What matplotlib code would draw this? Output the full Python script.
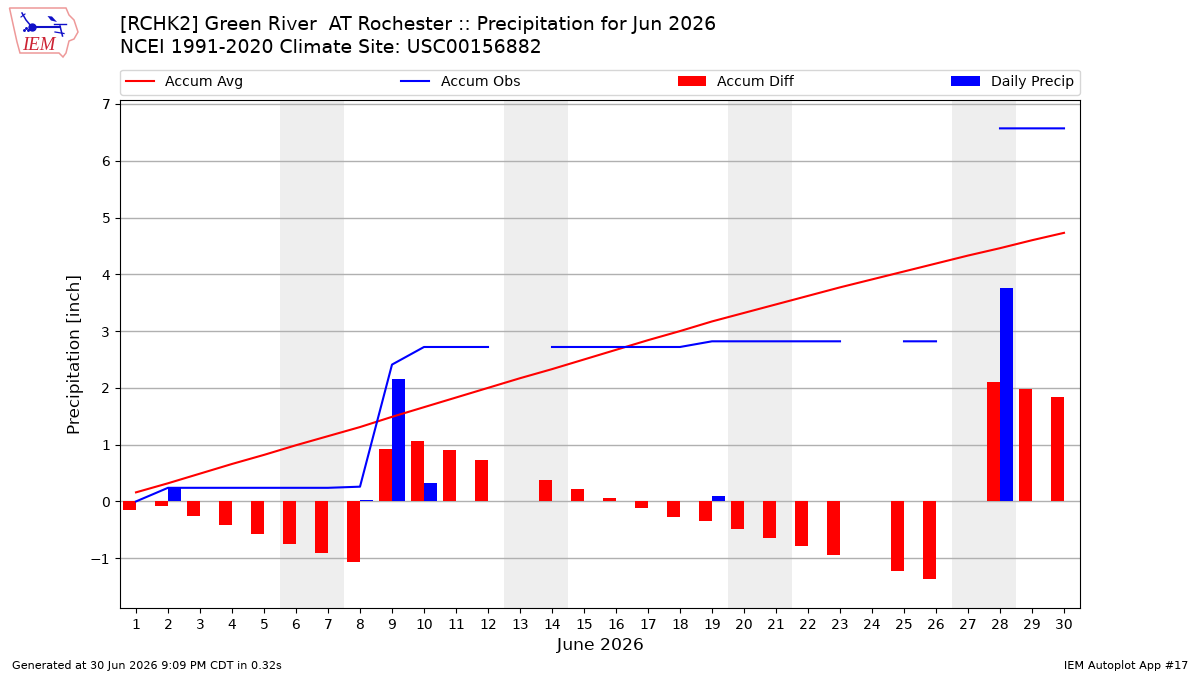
import matplotlib
matplotlib.use("Agg")
import matplotlib.pyplot as plt
from matplotlib.patches import Polygon
import numpy as np

plt.rcParams["text.hinting"] = "native"

nan = np.nan

days = list(range(1, 31))
accum_avg = [0.16, 0.32, 0.49, 0.66, 0.82, 0.99, 1.15, 1.31, 1.49, 1.66,
             1.83, 2.00, 2.17, 2.33, 2.50, 2.67, 2.84, 3.00, 3.17, 3.32,
             3.47, 3.62, 3.77, 3.91, 4.05, 4.19, 4.33, 4.46, 4.60, 4.73]
accum_obs = [0.00, 0.24, 0.24, 0.24, 0.24, 0.24, 0.24, 0.26, 2.41, 2.72,
             2.72, 2.72, nan, 2.72, 2.72, 2.72, 2.72, 2.72, 2.82, 2.82,
             2.82, 2.82, 2.82, nan, 2.82, 2.82, nan, 6.57, 6.57, 6.57]
accum_diff = [-0.15, -0.08, -0.25, -0.42, -0.57, -0.75, -0.91, -1.07, 0.92, 1.06,
              0.90, 0.73, nan, 0.38, 0.22, 0.06, -0.11, -0.27, -0.34, -0.49,
              -0.64, -0.79, -0.94, nan, -1.22, -1.36, nan, 2.10, 1.98, 1.84]
daily_precip = [0.00, 0.24, 0.00, 0.00, 0.00, 0.00, 0.00, 0.02, 2.15, 0.32,
                0.00, 0.00, nan, 0.00, 0.00, 0.00, 0.00, 0.00, 0.09, 0.00,
                0.00, 0.00, 0.00, nan, 0.00, 0.00, nan, 3.75, 0.00, 0.00]
weekends = [6, 13, 20, 27]

title_lines = [
    "[RCHK2] Green River  AT Rochester :: Precipitation for Jun 2026",
    "NCEI 1991-2020 Climate Site: USC00156882",
]


def draw_logo(fig):
    # overlay in pixel coordinates for the little Iowa badge
    lax = fig.add_axes([0, 0, 1, 1], facecolor="none")
    lax.set_xlim(0, 1200)
    lax.set_ylim(675, 0)
    lax.axis("off")
    outline = [(9.5, 8), (66, 8), (69, 15), (74, 20), (78, 32), (74, 39), (69, 41),
               (66, 53), (63, 57), (59, 53), (20, 53), (17, 42), (13, 24)]
    lax.add_patch(Polygon(outline, closed=True, fill=False, ec="#ee9999", lw=1.1))
    blue = "#1010c8"
    lax.plot([31, 60], [26.5, 26.5], color=blue, lw=1.5)
    lax.plot([31.5], [26.5], "o", color=blue, ms=5)
    lax.plot([22, 26, 31], [13, 20, 26], color=blue, lw=1.1)
    lax.plot([21, 25], [17, 14], color=blue, lw=0.8)
    lax.add_patch(Polygon([(47.5, 16), (52, 16.5), (57, 22), (51, 20.5)], closed=True, color=blue, lw=0))
    lax.plot([54, 66], [23.5, 23.5], color=blue, lw=1)
    lax.plot([60, 62.5], [26, 36], color=blue, lw=1.1)
    lax.plot([55, 64], [32, 33.5], color=blue, lw=0.9)
    lax.plot([23.5, 25.5, 27.5], [30, 27.5, 30], ".", color=blue, ms=2.2)
    lax.text(22, 46, "IEM", family="Liberation Serif", style="italic", color="#cc2233",
             fontsize=13.5, ha="left", va="center")


fig = plt.figure(figsize=(12, 6.75), dpi=100)
ax = fig.add_axes([0.10, 0.0993, 0.80, 0.7526])

for d in weekends:
    ax.axvspan(d - 0.5, d + 1.5, color="#eeeeee", lw=0, zorder=0)

ax.bar(days, accum_diff, width=-0.4, align="edge", color="r", label="Accum Diff", zorder=2)
ax.bar(days, daily_precip, width=0.4, align="edge", color="b", label="Daily Precip", zorder=2)
ax.plot(days, accum_avg, color="r", label="Accum Avg", zorder=3)
ax.plot(days, accum_obs, color="b", label="Accum Obs", zorder=3)

ax.set_xlim(0.5, 30.5)
ax.set_ylim(-1.876, 7.07)
ax.set_xticks(days)
ax.grid(axis="y", color="#b0b0b0", lw=1, zorder=1)
ax.set_axisbelow(True)
ax.set_xlabel("June 2026", fontsize=12.4)
ax.set_ylabel("Precipitation [inch]", fontsize=12.2)

# lines first in the legend, then bars
handles, labels = ax.get_legend_handles_labels()
order = [labels.index(n) for n in ["Accum Avg", "Accum Obs", "Accum Diff", "Daily Precip"]]
ax.legend([handles[i] for i in order], [labels[i] for i in order],
          bbox_to_anchor=(0, 1.01, 1, 0.05), loc="lower left", mode="expand",
          ncol=4, borderaxespad=0, fontsize=10.2)

fig.text(0.10, 1 - 25 / 675, title_lines[0], fontsize=13.57, va="center", ha="left")
fig.text(0.10, 1 - 48 / 675, title_lines[1], fontsize=13.57, va="center", ha="left")
fig.text(0.01, 0.0145, "Generated at 30 Jun 2026 9:09 PM CDT in 0.32s", fontsize=8.12, va="center")
fig.text(0.99, 0.0145, "IEM Autoplot App #17", fontsize=8.12, va="center", ha="right")

draw_logo(fig)

fig.savefig("out.png", dpi=100)
